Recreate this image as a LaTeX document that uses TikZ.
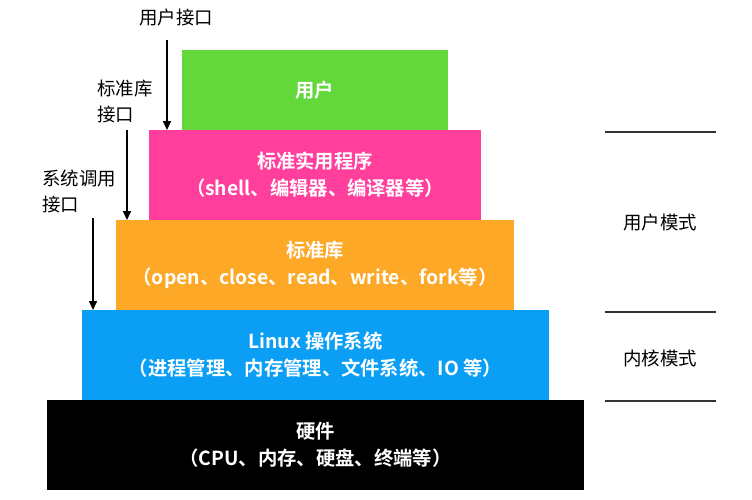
\documentclass[tikz,border=0pt]{standalone}
\usepackage{fontspec}
\newfontfamily\cjk[BoldFont={Noto Sans CJK SC Bold}]{Noto Sans CJK SC}
\usetikzlibrary{arrows.meta}
\definecolor{usergreen}{HTML}{62D83A}
\definecolor{apppink}{HTML}{FF3F9B}
\definecolor{liborange}{HTML}{FDA826}
\definecolor{kernelblue}{HTML}{0A9FF5}
\definecolor{rulegray}{HTML}{333333}
\tikzset{
  layer/.style={rectangle,inner sep=0pt,text=white,align=center,
    font=\cjk\bfseries\fontsize{11}{15.4}\selectfont},
  side/.style={inner sep=0pt,align=left,font=\cjk\fontsize{10.5}{14.8}\selectfont},
  api/.style={line width=0.7pt,-{Triangle[width=4.5pt,length=5pt]}},
  modeline/.style={line width=0.75pt,rulegray}
}
\begin{document}
\begin{tikzpicture}[x=0.02cm,y=-0.02cm]
\useasboundingbox (0,0) rectangle (752,500);
% layers
\node[layer,fill=usergreen,minimum width=5.32cm,minimum height=1.6cm] (user) at (315,90) {用户};
\node[layer,fill=apppink,minimum width=6.64cm,minimum height=1.8cm] (apps) at (315,175) {标准实用程序\\（shell、编辑器、编译器等）};
\node[layer,fill=liborange,minimum width=7.96cm,minimum height=1.8cm] (lib) at (315,265) {标准库\\（open、close、read、write、fork等）};
\node[layer,fill=kernelblue,minimum width=9.34cm,minimum height=1.8cm] (kernel) at (315.5,355) {Linux 操作系统\\（进程管理、内存管理、文件系统、IO 等）};
\node[layer,fill=black,minimum width=10.74cm,minimum height=1.8cm] (hw) at (315.5,445) {硬件\\（CPU、内存、硬盘、终端等）};
% interfaces
\node[side] (uapi) at (176,18) {用户接口};
\node[side,anchor=west] (libapi) at (97,102) {标准库\\接口};
\node[side,anchor=west] (sysapi) at (42,191) {系统调用\\接口};
\coordinate (uapi s) at (167,40);   \coordinate (uapi e) at (167,130);
\coordinate (libapi s) at (127,130); \coordinate (libapi e) at (127,220);
\coordinate (sysapi s) at (93,218);  \coordinate (sysapi e) at (93,310);
\draw[api] (uapi s) -- (uapi e);
\draw[api] (libapi s) -- (libapi e);
\draw[api] (sysapi s) -- (sysapi e);
% modes
\coordinate (m1) at (605,132); \coordinate (m1e) at (716,132);
\coordinate (m2) at (605,312); \coordinate (m2e) at (716,312);
\coordinate (m3) at (605,401); \coordinate (m3e) at (716,401);
\draw[modeline] (m1) -- (m1e);
\draw[modeline] (m2) -- (m2e);
\draw[modeline] (m3) -- (m3e);
\node[side] (usermode) at (660,223) {用户模式};
\node[side] (kernelmode) at (660,358) {内核模式};
\end{tikzpicture}
\end{document}
